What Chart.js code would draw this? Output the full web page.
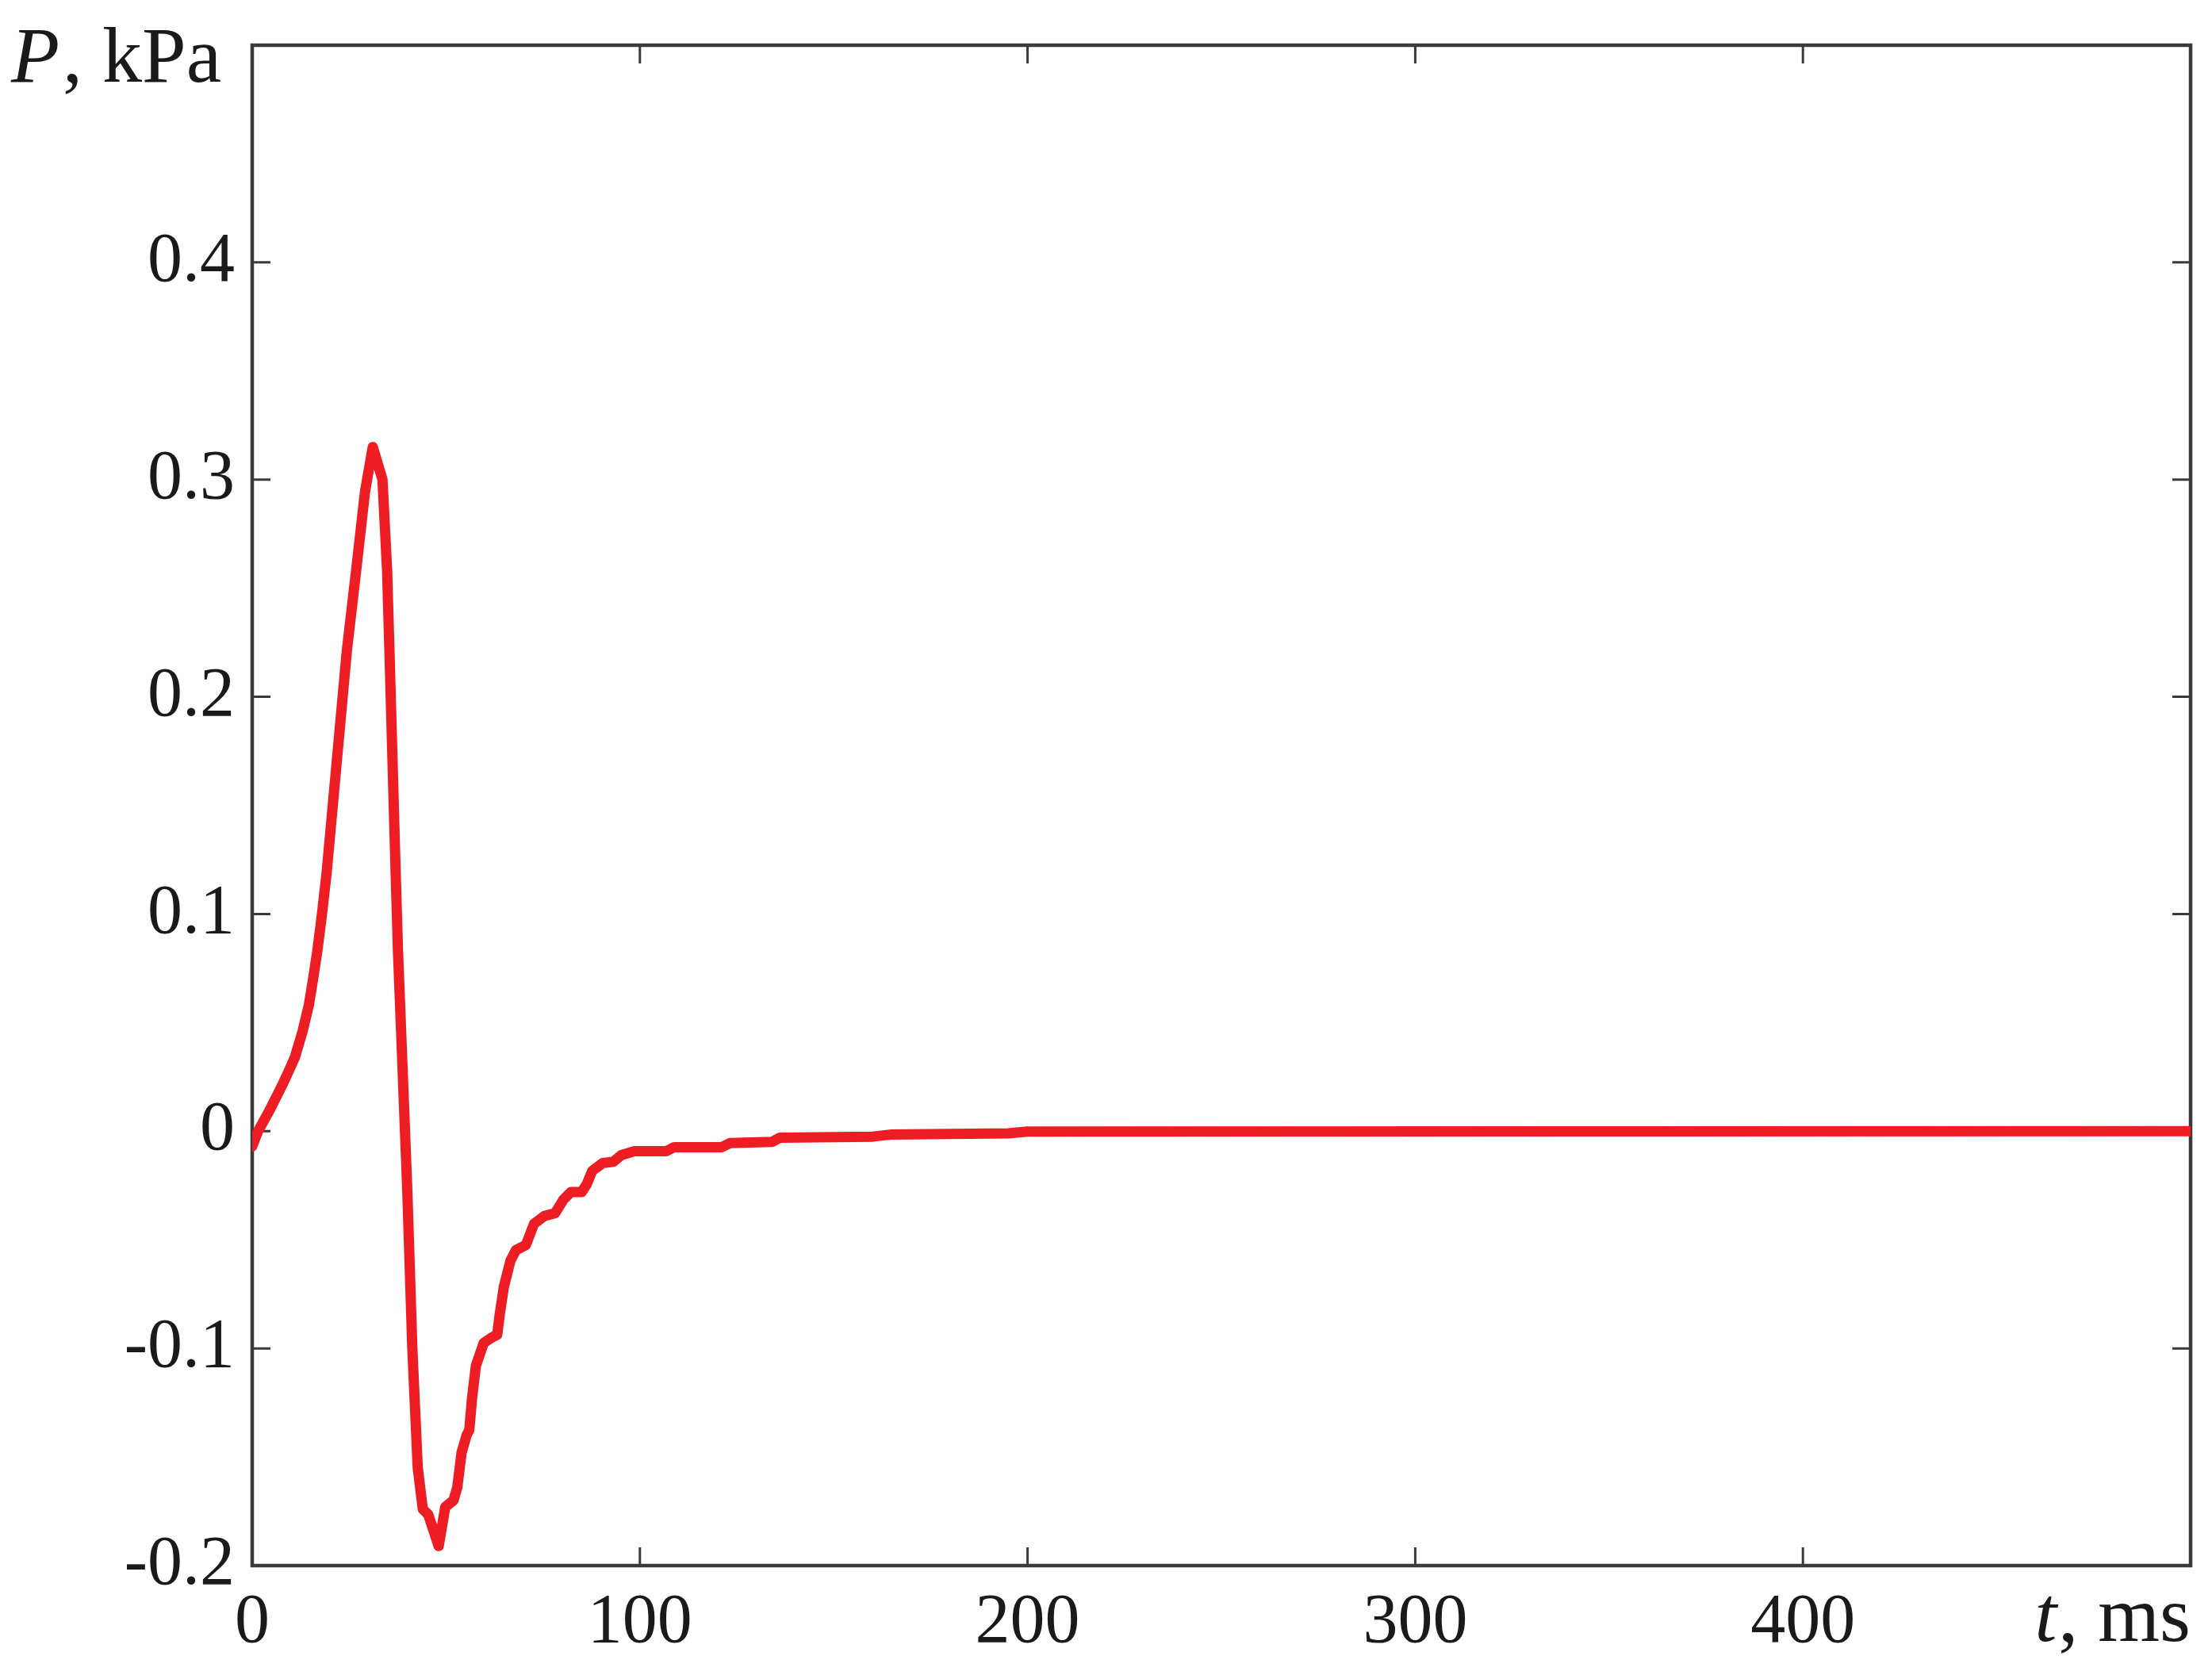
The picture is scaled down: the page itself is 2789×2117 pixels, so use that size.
<!DOCTYPE html>
<html>
<head>
<meta charset="utf-8">
<title>P(t)</title>
<script src="https://cdn.jsdelivr.net/npm/chart.js@4.4.0/dist/chart.umd.min.js"></script>
<style>
  html, body { margin: 0; padding: 0; background: #fff; }
  canvas { display: block; }
</style>
</head>
<body>
<canvas id="chart" width="2789" height="2117"></canvas>
<script>
// time, ms
const timeMs = [0, 1.5, 4.5, 7.9, 9.5, 11, 13, 14.6, 15.75, 16.8, 18, 19.2, 21.8, 24.4, 26.8, 29.1, 31.1,
  33.6, 34.8, 35.4, 37.0, 37.6, 40.0, 41.3, 42.7, 44.0, 45.4, 48.1, 49.8, 51.9, 52.9, 54.0,
  55.3, 56.0, 56.7, 57.7, 59.7, 61.8, 63.2, 63.8, 64.9, 66.6, 68.0, 70.6, 72.7, 75.4, 78.1,
  80.2, 82.2, 85.0, 86.3, 87.7, 90.4, 93.1, 95.2, 98.6, 106.8, 108.8, 121.1, 123.2, 134.1,
  136.1, 160, 165, 195, 200, 500];
// pressure, kPa
const pressureKPa = [-0.007, 0.000, 0.0097, 0.0218, 0.028, 0.034, 0.046, 0.058, 0.0706, 0.083, 0.100, 0.119,
  0.170, 0.221, 0.258, 0.2945, 0.315, 0.300, 0.258, 0.221, 0.119, 0.083, -0.027, -0.100,
  -0.155, -0.174, -0.1765, -0.191, -0.173, -0.170, -0.164, -0.148, -0.140, -0.1375, -0.123,
  -0.108, -0.0975, -0.095, -0.0937, -0.085, -0.0718, -0.0597, -0.0548, -0.0524, -0.0426,
  -0.039, -0.0378, -0.0317, -0.028, -0.028, -0.0244, -0.0183, -0.0147, -0.0141, -0.011,
  -0.0092, -0.0092, -0.0074, -0.0074, -0.0055, -0.0049, -0.003, -0.0025, -0.0015, -0.001,
  -0.0002, 0];

const xTicks = [0, 100, 200, 300, 400, 500];
const xTickLabels = ['0', '100', '200', '300', '400', ''];
const yTicks = [-0.2, -0.1, 0, 0.1, 0.2, 0.3, 0.4, 0.5];
const yTickLabels = ['-0.2', '-0.1', '0', '0.1', '0.2', '0.3', '0.4', ''];

const FONT = '"Liberation Serif", "Times New Roman", serif';

let points = [];
for (let i = 0; i < timeMs.length; i++) {
    points.push({ x: timeMs[i], y: pressureKPa[i] });
}

// box, inward ticks on all four sides
const frame = {
    id: 'frame',
    beforeDatasetsDraw(chart) {
        const { ctx, chartArea: a, scales } = chart;
        ctx.save();
        ctx.strokeStyle = '#3a3a3a';
        ctx.lineWidth = 3;
        xTicks.forEach(v => {
            let px = scales.x.getPixelForValue(v);
            ctx.beginPath();
            ctx.moveTo(px, a.bottom); ctx.lineTo(px, a.bottom - 23);
            ctx.moveTo(px, a.top); ctx.lineTo(px, a.top + 23);
            ctx.stroke();
        });
        yTicks.forEach(v => {
            let py = scales.y.getPixelForValue(v);
            ctx.beginPath();
            ctx.moveTo(a.left, py); ctx.lineTo(a.left + 23, py);
            ctx.moveTo(a.right, py); ctx.lineTo(a.right - 23, py);
            ctx.stroke();
        });
        ctx.lineWidth = 4.5;
        ctx.strokeRect(a.left, a.top, a.right - a.left, a.bottom - a.top);
        ctx.restore();
    },
    afterDraw(chart) {
        const { ctx, chartArea: a } = chart;
        ctx.save();
        ctx.fillStyle = '#1a1a1a';
        ctx.textBaseline = 'alphabetic';

        // y title, top left
        ctx.textAlign = 'left';
        ctx.font = 'italic 100px ' + FONT;
        ctx.fillText('P', 14, 103);
        let w = ctx.measureText('P').width;
        ctx.font = '100px ' + FONT;
        ctx.fillText(', kPa', 14 + w + 4, 103);

        // x title, bottom right in the tick label row
        ctx.textAlign = 'right';
        ctx.font = '100px ' + FONT;
        ctx.fillText(', ms', a.right, 2069);
        let w2 = ctx.measureText(', ms').width;
        ctx.font = 'italic 100px ' + FONT;
        ctx.fillText('t', a.right - w2 - 2, 2069);
        ctx.restore();
    }
};

new Chart(document.getElementById('chart'), {
    type: 'line',
    data: {
        datasets: [{
            data: points,
            borderColor: '#ee1d23',
            borderWidth: 13,
            borderJoinStyle: 'round',
            borderCapStyle: 'round',
            pointRadius: 0,
            tension: 0,
            fill: false
        }]
    },
    options: {
        responsive: false,
        animation: false,
        devicePixelRatio: 1,
        layout: { padding: { top: 57, right: 27, left: 0, bottom: 0 } },
        plugins: { legend: { display: false }, tooltip: { enabled: false } },
        scales: {
            x: {
                type: 'linear',
                min: 0,
                max: 500,
                grid: { display: false },
                border: { display: false },
                afterBuildTicks: s => { s.ticks = xTicks.map(v => ({ value: v })); },
                afterFit: s => { s.height = 143; s.paddingLeft = 0; s.paddingRight = 0; },
                ticks: {
                    autoSkip: false,
                    maxRotation: 0,
                    padding: 12,
                    color: '#1a1a1a',
                    font: { family: FONT, size: 88 },
                    callback: (v) => xTickLabels[xTicks.indexOf(v)]
                }
            },
            y: {
                type: 'linear',
                min: -0.2,
                max: 0.5,
                grid: { display: false },
                border: { display: false },
                afterBuildTicks: s => { s.ticks = yTicks.map(v => ({ value: v })); },
                afterFit: s => { s.width = 318; s.paddingTop = 0; s.paddingBottom = 0; },
                ticks: {
                    autoSkip: false,
                    padding: 14,
                    color: '#1a1a1a',
                    font: { family: FONT, size: 88 },
                    callback: (v) => yTickLabels[yTicks.indexOf(v)]
                }
            }
        }
    },
    plugins: [frame]
});
</script>
</body>
</html>
